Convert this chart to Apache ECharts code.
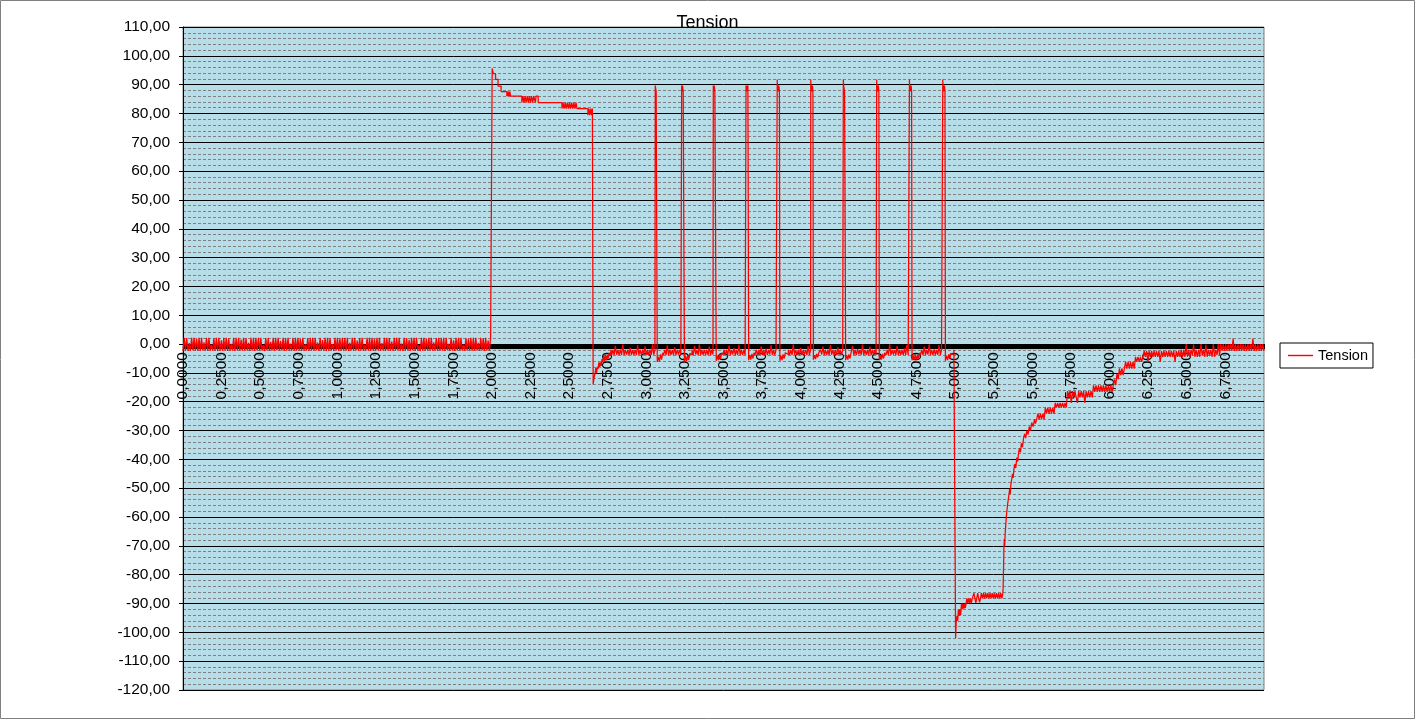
<!DOCTYPE html>
<html>
<head>
<meta charset="utf-8">
<script src="https://cdn.jsdelivr.net/npm/echarts@6.0.0/dist/echarts.min.js"></script>
<style>
html,body{margin:0;padding:0;background:#fff;}
#chart{width:1415px;height:719px;}
</style>
</head>
<body>
<div id="chart"></div>
<script>
// ---------- DATA ----------
const chartTitle = 'Tension';
const seriesName = 'Tension';
const yMin = -120, yMax = 110, yStep = 10;
const xMin = 0, xMax = 7, xStep = 0.25;
const sampleStep = 0.008; // spacing of the dense noise samples (time units)

// noise around 0 before the first pulse, samples from t = 0
const leftNoise = [
-2.3,2.2,-2.3,2.1,-2.4,0.3,-2.3,2.2,-2.2,2.2,
-2.3,1.9,-2.4,2.2,-2.3,2.2,-2.2,0.6,-2.3,2.2,
-2.4,2.2,-2.3,-0.2,-2.3,2.1,-2.3,2.2,-2.4,2.2,
-2.3,1.3,-2.3,2.2,-2.2,2.2,-2.4,2.0,-2.3,0.1,
-2.3,2.2,-2.4,2.2,-2.3,2.2,-2.3,1.6,-2.3,2.2,
-2.2,2.1,-2.3,0.4,-2.4,2.2,-2.3,2.2,-2.3,2.2,
-2.3,2.2,-2.2,2.2,-2.3,-0.3,-2.4,2.1,-2.3,2.2,
-2.4,0.8,-2.3,2.2,-2.3,2.2,-2.2,2.2,-2.3,1.1,
-2.3,2.2,-2.4,2.1,-2.3,2.2,-2.3,0.2,-2.3,2.2,
-2.3,2.2,-2.3,2.2,-2.2,1.8,-2.4,2.2,-2.3,-0.1,
-2.3,2.1,-2.4,2.2,-2.3,2.2,-2.3,2.2,-2.2,0.5,
-2.4,2.2,-2.3,1.4,-2.3,2.2,-2.4,2.2,-2.3,2.1,
-2.3,0.0,-2.3,2.2,-2.2,2.2,-2.3,1.9,-2.4,2.2,
-2.3,2.2,-2.3,2.2,-2.4,0.4,-2.3,2.2,-2.3,2.2,
-2.2,1.2,-2.3,2.1,-2.3,2.2,-2.4,-0.2,-2.3,2.2,
-2.3,2.2,-2.4,2.2,-2.3,1.7,-2.3,2.2,-2.2,2.2,
-2.3,0.3,-2.3,2.2,-2.4,2.2,-2.3,2.1,-2.3,0.9,
-2.4,2.2,-2.2,2.2,-2.3,2.2,-2.3,0.2,-2.4,2.2,
-2.3,2.1,-2.3,1.5,-2.3,2.2,-2.2,2.2,-2.3,2.2,
-2.3,-0.4,-2.4,2.2,-2.3,2.2,-2.3,1.9,-2.3,2.2,
-2.2,2.2,-2.3,0.6,-2.3,2.1,-2.4,2.2,-2.3,2.2,
-2.3,2.2,-2.4,2.2,-2.2,0.1,-2.3,2.2,-2.3,1.3,
-2.4,2.2,-2.3,2.2,-2.3,2.2,-2.3,-0.2,-2.3,2.1,
-2.3,1.8,-2.2,2.2,-2.4,2.2,-2.3,2.2,-2.3,0.4,
-2.3,2.2,-2.3,2.1,-2.4,2.2,-2.3,1.2,-2.3,2.2
];

// high plateau after the jump at t = 2.0  [time, value]
const plateauHigh = [
[2.002,95.6],[2.010,93.8],[2.024,91.8],[2.040,89.5],[2.060,87.6],
[2.097,86.0],[2.101,87.6],[2.105,86.0],[2.109,87.6],[2.113,86.0],[2.117,87.6],[2.121,86.0],
[2.194,83.8],[2.201,86.0],[2.208,83.8],[2.215,86.0],[2.222,83.8],[2.229,86.0],[2.236,83.8],[2.243,86.0],
[2.250,83.8],[2.257,86.0],[2.264,83.8],[2.271,86.0],[2.282,83.8],[2.286,86.0],[2.300,83.8],
[2.454,81.7],[2.461,83.8],[2.468,81.7],[2.475,83.8],[2.482,81.7],[2.489,83.8],[2.496,81.7],[2.503,83.8],
[2.510,81.7],[2.517,83.8],[2.524,81.7],[2.531,83.8],[2.538,81.7],[2.545,83.8],[2.551,81.7],
[2.622,79.4],[2.628,81.7],[2.634,79.4],[2.640,81.7],[2.646,79.4],[2.651,81.7]
];

// undershoot and recovery after the drop at t = 2.656
const recoveryAfterDrop = [
[2.656,-14.0],[2.662,-11.6],[2.668,-10.2],[2.673,-8.2],[2.678,-10.0],[2.683,-7.9],[2.688,-8.6],
[2.693,-6.3],[2.698,-7.9],[2.703,-6.3],[2.708,-7.6],[2.713,-5.2],[2.718,-6.3],[2.724,-3.8],
[2.730,-6.0],[2.736,-3.8],[2.742,-5.6],[2.748,-3.8],[2.754,-5.0],[2.760,-3.0],[2.766,-4.0],[2.772,-2.0]
];

// noise between the pulses, samples from t = 2.776
const middleNoise = [
-3.8,-2.0,-3.8,-0.6,-3.7,-2.0,-3.8,-1.9,-3.8,-0.1,
-3.8,-2.0,-3.6,-2.0,-3.8,-1.2,-3.8,-2.0,-3.7,-2.0,
-3.8,-0.3,-3.8,-2.0,-3.8,-1.9,-3.6,-0.8,-3.8,-2.0,
-3.8,-2.0,-3.8,-0.1,-3.7,-2.0,-3.8,-2.0,-3.8,-1.5,
-3.6,-2.0,-3.8,-2.0,-3.8,-0.4,-3.8,-1.9,-3.7,-2.0,
-3.8,-1.0,-3.8,-2.0,-3.6,-2.0,-3.8,-0.2,-3.8,-2.0,
-3.7,-2.0,-3.8,-1.7,-3.8,-2.0,-3.8,-0.7,-3.6,-2.0,
-3.8,-0.1,-3.8,-2.0,-3.7,-2.0,-3.8,-2.0,-3.8,-0.9,
-3.8,-2.0,-3.6,-0.3,-3.8,-2.0,-3.8,-1.8,-3.8,-2.0,
-3.7,-2.0,-3.8,-2.0,-3.8,-0.5,-3.8,-2.0,-3.6,-1.3,
-3.8,-2.0,-3.8,-0.2,-3.8,-2.0,-3.7,-2.0,-3.8,-0.6,
-3.8,-1.9,-3.8,-2.0,-3.6,-0.1,-3.8,-2.0,-3.8,-2.0,
-3.7,-0.8,-3.8,-2.0,-3.8,-1.6,-3.8,-2.0,-3.6,-0.3,
-3.8,-2.0,-3.8,-2.0,-3.7,-1.0,-3.8,-2.0,-3.8,-2.0,
-3.8,-0.4,-3.6,-2.0,-3.8,-2.0,-3.8,-0.1,-3.7,-2.0,
-3.8,-2.0,-3.8,-1.4,-3.8,-2.0,-3.6,-2.0,-3.8,-0.7,
-3.8,-2.0,-3.7,-0.2,-3.8,-2.0,-3.8,-1.9,-3.8,-2.0,
-3.6,-0.9,-3.8,-2.0,-3.8,-2.0,-3.8,-0.3,-3.7,-2.0,
-3.8,-2.0,-3.8,-1.1,-3.6,-2.0,-3.8,-2.0,-3.8,-0.1,
-3.8,-2.0,-3.7,-2.0,-3.8,-0.6,-3.8,-2.0,-3.8,-1.7,
-3.6,-2.0,-3.8,-0.2,-3.8,-2.0,-3.7,-2.0,-3.8,-0.9,
-3.8,-2.0,-3.8,-2.0,-3.6,-0.4,-3.8,-2.0,-3.8,-2.0,
-3.7,-1.2,-3.8,-2.0,-3.8,-0.1,-3.8,-2.0,-3.6,-2.0,
-3.8,-0.7,-3.8,-2.0,-3.7,-2.0,-3.8,-1.5,-3.8,-0.2,
-3.8,-2.0,-3.6,-2.0,-3.8,-0.5,-3.8,-2.0,-3.8,-2.0,
-3.7,-2.0,-3.8,-0.9,-3.8,-2.0,-3.6,-0.1,-3.8,-2.0,
-3.8,-1.8,-3.8,-2.0,-3.7,-0.3,-3.8,-2.0,-3.8,-2.0,
-3.6,-0.6,-3.8,-2.0,-3.8,-1.0,-3.8,-2.0
];

// the ten short pulses  [time, value]
const pulse1 = [[3.058,89.7],[3.064,87.6],[3.071,-6.2],[3.078,-4.4],[3.085,-6.0],[3.092,-3.6],[3.099,-5.4],[3.106,-3.0]];
const pulse2 = [[3.229,89.7],[3.232,87.6],[3.235,89.7],[3.239,87.6],[3.247,-6.3],[3.254,-4.2],[3.261,-6.0],[3.268,-3.8],[3.275,-5.6],[3.282,-3.2]];
const pulse3 = [[3.434,89.7],[3.437,87.6],[3.440,89.7],[3.444,87.6],[3.453,-5.8],[3.460,-4.0],[3.467,-5.6],[3.474,-3.6],[3.481,-5.2],[3.488,-3.0]];
const pulse4 = [[3.646,89.7],[3.649,87.6],[3.652,89.7],[3.655,87.6],[3.658,89.7],[3.663,-5.6],[3.670,-3.8],[3.677,-5.4],[3.684,-3.4],[3.691,-5.0],[3.698,-3.0]];
const pulse5 = [[3.848,91.8],[3.850,87.6],[3.853,89.7],[3.856,87.6],[3.859,89.7],[3.862,87.6],[3.865,-5.8],[3.872,-4.0],[3.879,-5.6],[3.886,-3.6],[3.893,-5.0],[3.900,-3.0]];
const pulse6 = [[4.065,91.8],[4.067,87.6],[4.070,89.7],[4.073,87.6],[4.076,89.7],[4.079,87.6],[4.082,-5.4],[4.089,-3.8],[4.096,-5.2],[4.103,-3.4],[4.110,-4.6],[4.117,-3.0]];
const pulse7 = [[4.276,91.8],[4.278,89.7],[4.284,87.6],[4.291,-5.6],[4.298,-3.8],[4.305,-5.4],[4.312,-3.6],[4.319,-5.0],[4.326,-3.0]];
const pulse8 = [[4.492,91.8],[4.494,87.6],[4.497,89.7],[4.500,87.6],[4.503,89.7],[4.506,87.6],[4.509,-5.6],[4.516,-3.8],[4.523,-5.4],[4.530,-3.4],[4.537,-5.0],[4.544,-3.0]];
const pulse9 = [[4.704,91.8],[4.706,87.6],[4.709,89.7],[4.712,87.6],[4.715,89.7],[4.718,87.6],[4.721,-5.6],[4.728,-4.0],[4.735,-5.6],[4.742,-3.6],[4.749,-5.6],[4.756,-3.8],[4.763,-5.2],[4.770,-3.0]];
const pulse10 = [[4.920,91.8],[4.922,87.6],[4.925,89.7],[4.928,87.6],[4.931,89.7],[4.934,87.6],[4.937,-5.8],[4.944,-4.0],[4.951,-5.6],[4.958,-3.6],[4.965,-5.2],[4.972,-3.2]];
const pulses = [pulse1,pulse2,pulse3,pulse4,pulse5,pulse6,pulse7,pulse8,pulse9,pulse10];

// negative drop at t = 5.0 and low plateau  [time, value]
const dropLow = [
[5.003,-102.0],[5.007,-96.3],[5.012,-94.3],[5.017,-96.0],[5.021,-92.0],[5.026,-94.3],[5.031,-92.0],[5.036,-94.0],
[5.041,-90.0],[5.046,-92.0],[5.051,-90.0],[5.056,-91.8],[5.061,-90.0],[5.066,-91.6],[5.071,-89.9],[5.076,-88.2],
[5.081,-89.9],[5.087,-88.2],[5.093,-89.9],[5.099,-88.2],[5.105,-89.9],[5.111,-88.2]
];
const plateauLow = [
[5.116,-88.2],[5.122,-86.4],[5.128,-88.2],[5.134,-89.8],[5.140,-88.2],[5.146,-86.4],[5.152,-88.2],[5.158,-89.6],
[5.164,-88.2],[5.170,-86.4],[5.177,-88.2],[5.184,-86.4],[5.191,-88.2],[5.198,-86.4],[5.205,-88.2],[5.212,-86.4],
[5.219,-88.2],[5.226,-86.4],[5.233,-88.2],[5.240,-86.4],[5.247,-88.2],[5.254,-86.4],[5.261,-88.2],[5.268,-86.4],
[5.275,-88.2],[5.282,-86.4],[5.289,-88.2],[5.296,-86.4],[5.303,-88.2],[5.309,-86.4]
];
// recovery curve  [time, value]
const riseCurve = [
[5.311,-84.0],[5.314,-76.0],[5.316,-70.3],[5.319,-67.5],[5.321,-70.0],[5.324,-65.6],[5.327,-63.4],[5.330,-61.0],
[5.333,-59.0],[5.337,-57.0],[5.341,-55.0],[5.345,-53.6],[5.349,-52.0],[5.353,-50.2],[5.357,-52.0],[5.361,-48.6],
[5.366,-47.0],[5.371,-45.0],[5.376,-46.4],[5.381,-43.2],[5.387,-41.6],[5.393,-43.0],[5.399,-39.4],[5.405,-40.8],
[5.411,-37.6],[5.417,-36.2],[5.423,-37.6],[5.429,-34.4],[5.436,-35.8],[5.443,-32.6],[5.450,-31.2],[5.457,-32.6],
[5.464,-30.0],[5.472,-31.4],[5.480,-28.6],[5.488,-30.0],[5.496,-27.2],[5.505,-28.6],[5.514,-26.1],[5.520,-27.6]
];
// stepped tail back to 0, samples from t = 5.528
const tailNoise = [
-26.1,-24.1,-26.1,-24.1,-26.1,-24.1,-26.1,
-22.0,-24.1,-22.0,-24.1,-22.0,-24.1,-22.0,-24.1,
-20.4,-22.0,-20.4,-22.0,-20.4,-22.0,-20.4,-22.0,-20.4,-22.0,
-16.3,-18.5,-16.3,-20.4,-16.3,-18.5,-16.3,-18.5,-20.4,-16.3,-18.5,-16.3,-18.5,-16.3,-20.4,-16.3,-18.5,-16.3,-18.5,-16.3,-18.5,
-14.3,-16.6,-14.3,-16.6,-14.3,-16.6,-14.3,-16.6,-14.3,-16.6,-14.3,-16.6,-14.3,-16.6,-14.3,-16.6,
-14.3,-12.2,-14.3,-10.2,-12.2,
-8.4,-10.8,-8.4,-10.8,-8.4,
-6.2,-8.5,-6.2,-8.5,-6.2,-8.5,-6.2,-8.5,
-4.4,-6.2,-4.4,-6.2,-4.4,-6.2,-4.4,
-2.4,-4.4,-2.4,-6.2,-2.4,-4.4,-2.4,-4.4,-2.4,-4.4,-2.4,-4.4,-2.4,-6.2,-2.4,-4.4,-2.4,-4.4,-2.4,-4.4,
-2.4,-4.4,-2.4,-4.4,-2.4,-6.2,-2.4,-4.4,-2.4,-4.4,
-2.0,-4.4,-2.0,-4.4,0.0,-4.4,-2.0,-4.4,-2.0,-4.0,-0.1,-4.4,-2.0,-4.4,-2.0,-4.4,
0.0,-4.0,-2.0,-4.4,-0.2,-4.4,-2.0,-4.0,-2.0,-4.4,0.0,-4.4,-2.0,-3.8,0.0,-4.0,
0.0,-2.4,0.0,-2.4,0.0,-2.4,0.0,-2.4,0.0,-2.4,1.9,-2.4,0.0,-2.4,0.0,-2.4,0.0,-2.4,
0.0,-2.4,0.0,-2.4,0.0,-2.4,0.0,-2.4,1.9,-2.4,0.0,-2.4,0.0,-2.4,0.0,-2.4,0.0,-2.4
];

// ---------- BUILD ----------
const onGrid = (t0, vals) => vals.map((v, i) => [Math.round((t0 + i * sampleStep) * 10000) / 10000, v]);
const inPulse = t => pulses.some(p => t >= p[0][0] - 1e-9 && t <= p[p.length - 1][0] + 0.004);
const middle = onGrid(2.776, middleNoise).filter(p => !inPulse(p[0]));
const seriesData = [].concat(
  onGrid(0, leftNoise), plateauHigh, recoveryAfterDrop, middle,
  ...pulses, dropLow, plateauLow, riseCurve, onGrid(5.528, tailNoise)
).sort((a, b) => a[0] - b[0]);

// layout of the plot area (pixels)
const plotTop = 27, plotBottom = 29, plotHeight = 719 - plotTop - plotBottom;
const zeroOffset = -plotHeight * (0 - yMin) / (yMax - yMin); // x axis sits on the value 0

const font = "'Liberation Sans', Arial, sans-serif";
const chart = echarts.init(document.getElementById('chart'), null, {renderer: 'canvas'});
chart.setOption({
  animation: false,
  backgroundColor: '#ffffff',
  title: {
    text: chartTitle, left: 'center', top: 9,
    textStyle: {fontFamily: font, fontSize: 18, fontWeight: 'normal', color: '#000'}
  },
  graphic: [{
    type: 'rect', z: 100, silent: true,
    shape: {x: 0.5, y: 0.5, width: 1414, height: 718},
    style: {fill: null, stroke: '#808080', lineWidth: 1}
  }],
  legend: {
    data: [seriesName], left: 1280, top: 343, orient: 'vertical',
    icon: 'rect',
    itemStyle: {color: '#FF0000', borderWidth: 0},
    backgroundColor: '#fff', borderColor: '#000', borderWidth: 1, borderRadius: 0,
    padding: [5, 5, 5, 8], itemWidth: 25, itemHeight: 1.4, itemGap: 0,
    textStyle: {fontFamily: font, fontSize: 14.5, color: '#000'}
  },
  grid: {
    left: 183, right: 151, top: plotTop, bottom: plotBottom,
    containLabel: false, outerBoundsMode: 'none',
    show: true, backgroundColor: '#B7DEE8', borderColor: '#808080', borderWidth: 1
  },
  xAxis: {
    type: 'value', min: xMin, max: xMax, interval: xStep,
    position: 'bottom', offset: zeroOffset,
    axisLine: {show: true, onZero: false, lineStyle: {color: '#000', width: 1}},
    axisTick: {show: true, inside: false, length: 5, lineStyle: {color: '#000', width: 1}},
    minorTick: {show: true, splitNumber: 40, length: 5, lineStyle: {color: '#000', width: 1}},
    splitLine: {show: false},
    minorSplitLine: {show: false},
    axisLabel: {
      rotate: 90, margin: 8, showMaxLabel: false, hideOverlap: false,
      fontFamily: font, fontSize: 15.5, color: '#000',
      formatter: v => v.toFixed(4).replace('.', ',')
    }
  },
  yAxis: {
    type: 'value', min: yMin, max: yMax, interval: yStep,
    axisLine: {show: true, onZero: false, lineStyle: {color: '#000', width: 1}},
    axisTick: {show: true, inside: false, length: 4, lineStyle: {color: '#000'}},
    minorTick: {show: false, splitNumber: 5},
    splitLine: {show: true, lineStyle: {color: '#000', width: 1, type: 'solid'}},
    minorSplitLine: {show: true, lineStyle: {color: '#808080', width: 1, type: [3, 2]}},
    axisLabel: {
      margin: 13, fontFamily: font, fontSize: 15.5, color: '#000',
      formatter: v => v.toFixed(2).replace('.', ',')
    }
  },
  series: [{
    name: seriesName, type: 'line', data: seriesData, step: 'end',
    symbol: 'none', showSymbol: false, sampling: null,
    lineStyle: {color: '#FF0000', width: 1.25},
    itemStyle: {color: '#FF0000'},
    z: 3
  }]
});
</script>
</body>
</html>
